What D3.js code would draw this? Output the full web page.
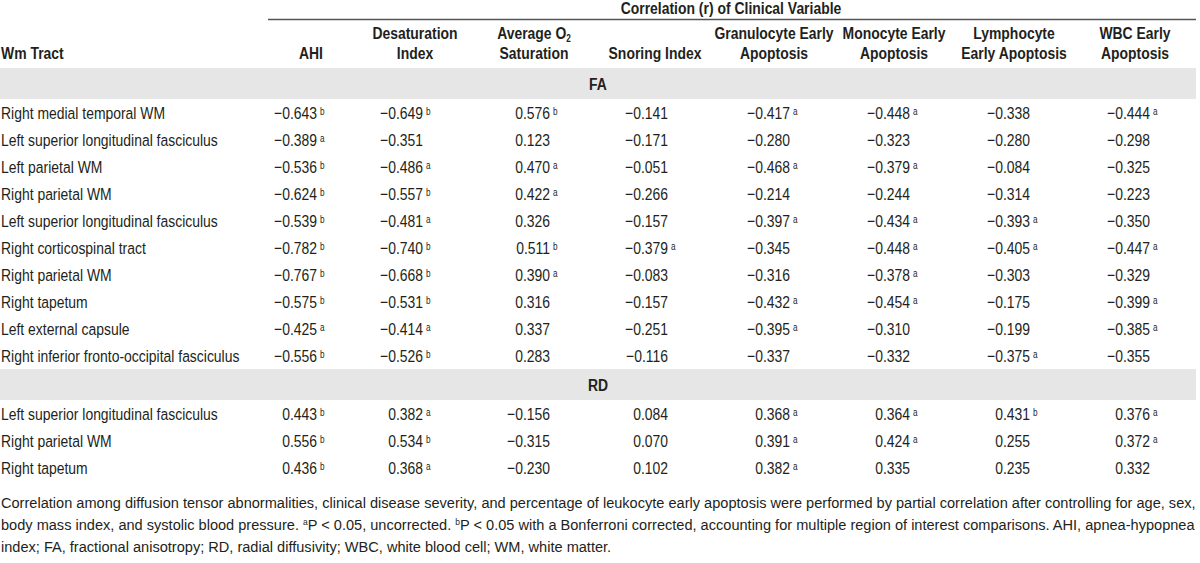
<!DOCTYPE html>
<html><head><meta charset="utf-8">
<script src="https://cdn.jsdelivr.net/npm/d3@7"></script>
<style>
html,body{margin:0;padding:0;background:#fff;}
svg{display:block;}
text{font-family:"Liberation Sans",Arial,sans-serif;fill:#231f20;}
</style></head>
<body><svg id="chart" width="1200" height="563"></svg>
<script>
// ---- data ----
const spanTitle = "Correlation (r) of Clinical Variable";
const rowHeader = "Wm Tract";
const columnKeys = ["ahi","desat","avgO2","snoring","gran","mono","lymph","wbc"];
const columnLabels = [
  ["", "AHI"],
  ["Desaturation", "Index"],
  ["Average O|2", "Saturation"],
  ["", "Snoring Index"],
  ["Granulocyte Early", "Apoptosis"],
  ["Monocyte Early", "Apoptosis"],
  ["Lymphocyte", "Early Apoptosis"],
  ["WBC Early", "Apoptosis"]
];
const sections = ["FA", "RD"];
const faTracts = [
  "Right medial temporal WM",
  "Left superior longitudinal fasciculus",
  "Left parietal WM",
  "Right parietal WM",
  "Left superior longitudinal fasciculus",
  "Right corticospinal tract",
  "Right parietal WM",
  "Right tapetum",
  "Left external capsule",
  "Right inferior fronto-occipital fasciculus"
];
const rdTracts = [
  "Left superior longitudinal fasciculus",
  "Right parietal WM",
  "Right tapetum"
];
// values per column (10 FA rows then 3 RD rows)
const ahi     = [-0.643,-0.389,-0.536,-0.624,-0.539,-0.782,-0.767,-0.575,-0.425,-0.556, 0.443,0.556,0.436];
const ahiSig  = ["b","a","b","b","b","b","b","b","a","b", "b","b","b"];
const desat   = [-0.649,-0.351,-0.486,-0.557,-0.481,-0.740,-0.668,-0.531,-0.414,-0.526, 0.382,0.534,0.368];
const desatSig= ["b","","a","b","a","b","b","b","a","b", "a","b","a"];
const avgO2   = [0.576,0.123,0.470,0.422,0.326,0.511,0.390,0.316,0.337,0.283, -0.156,-0.315,-0.230];
const avgO2Sig= ["b","","a","a","","b","a","","","", "","",""];
const snoring = [-0.141,-0.171,-0.051,-0.266,-0.157,-0.379,-0.083,-0.157,-0.251,-0.116, 0.084,0.070,0.102];
const snoringSig=["","","","","","a","","","","", "","",""];
const gran    = [-0.417,-0.280,-0.468,-0.214,-0.397,-0.345,-0.316,-0.432,-0.395,-0.337, 0.368,0.391,0.382];
const granSig = ["a","","a","","a","","","a","a","", "a","a","a"];
const mono    = [-0.448,-0.323,-0.379,-0.244,-0.434,-0.448,-0.378,-0.454,-0.310,-0.332, 0.364,0.424,0.335];
const monoSig = ["a","","a","","a","a","a","a","","", "a","a",""];
const lymph   = [-0.338,-0.280,-0.084,-0.314,-0.393,-0.405,-0.303,-0.175,-0.199,-0.375, 0.431,0.255,0.235];
const lymphSig= ["","","","","a","a","","","","a", "b","",""];
const wbc     = [-0.444,-0.298,-0.325,-0.223,-0.350,-0.447,-0.329,-0.399,-0.385,-0.355, 0.376,0.372,0.332];
const wbcSig  = ["a","","","","","a","","a","a","", "a","a",""];
const footnote = [
  [["Correlation among diffusion tensor abnormalities, clinical disease severity, and percentage of leukocyte early apoptosis were performed by partial correlation after controlling for age, sex,",""]],
  [["body mass index, and systolic blood pressure. ",""],["a","sup"],["P < 0.05, uncorrected. ",""],["b","sup"],["P < 0.05 with a Bonferroni corrected, accounting for multiple region of interest comparisons. AHI, apnea-hypopnea",""]],
  [["index; FA, fractional anisotropy; RD, radial diffusivity; WBC, white blood cell; WM, white matter.",""]]
];

// ---- layout ----
const svg = d3.select("#chart");
const SX = 0.82, FS = 17;
const series = {ahi, desat, avgO2, snoring, gran, mono, lymph, wbc};
const sigs = {ahi:ahiSig, desat:desatSig, avgO2:avgO2Sig, snoring:snoringSig, gran:granSig, mono:monoSig, lymph:lymphSig, wbc:wbcSig};

const headerX = d3.scaleOrdinal().domain(columnKeys).range([311,415,534,655,774,894,1014,1135]);
const numEndX = d3.scaleOrdinal().domain(columnKeys).range([317,423,550,668,790,910,1030,1150]);
const fmt = d3.format(".3f");

function txt(parent, x, y, s, size, weight, anchor, sx){
  return parent.append("text")
    .attr("transform", `translate(${x},${y}) scale(${sx==null?SX:sx},1)`)
    .attr("text-anchor", anchor||"start")
    .attr("font-size", size)
    .attr("font-weight", weight||"normal")
    .text(s);
}

const rowStep = 27, bandH = 31;
const bandTop = {FA: 68, RD: 68 + bandH + faTracts.length*rowStep};
const rowsFA = faTracts.map((t,i)=>({tract:t, idx:i, sec:"FA", k:i}));
const rowsRD = rdTracts.map((t,i)=>({tract:t, idx:faTracts.length+i, sec:"RD", k:i}));
const rows = rowsFA.concat(rowsRD);
const yRow = d => d3.scaleLinear().domain([0,1]).range([bandTop[d.sec]+bandH+rowStep/2, bandTop[d.sec]+bandH+rowStep*1.5])(d.k);

// header
txt(svg, 731, 14, spanTitle, FS, "bold", "middle");
svg.append("line").attr("x1",268).attr("x2",1196).attr("y1",19.5).attr("y2",19.5)
  .attr("stroke","#555").attr("stroke-width",1.6);
txt(svg, 1, 59, rowHeader, FS, "bold");

columnKeys.forEach((k,i)=>{
  columnLabels[i].forEach((lab,j)=>{
    if(!lab) return;
    const parts = lab.split("|");
    const t = txt(svg, headerX(k), j===0?39:59, null, FS, "bold", "middle");
    t.append("tspan").text(parts[0]);
    if(parts[1]) t.append("tspan").attr("font-size",10).attr("dy",3).text(parts[1]);
  });
});

// section bands
sections.forEach(s=>{
  svg.append("rect").attr("x",0).attr("y",bandTop[s]).attr("width",1196).attr("height",bandH).attr("fill","#e6e6e6");
  txt(svg, 598, bandTop[s]+bandH/2+6, s, FS, "bold", "middle");
});

// rows
const rowG = svg.selectAll("g.row").data(rows).join("g").attr("class","row")
  .attr("transform",d=>`translate(0,${yRow(d)+6})`);
rowG.append("text").attr("transform",`translate(1,0) scale(${SX},1)`).attr("font-size",FS).text(d=>d.tract);
columnKeys.forEach(k=>{
  rowG.append("text").attr("transform",`translate(${numEndX(k)},0) scale(${SX},1)`)
    .attr("text-anchor","end").attr("font-size",FS)
    .text(d=>fmt(series[k][d.idx]));
  rowG.append("text").attr("transform",`translate(${numEndX(k)+3},-4) scale(${SX},1)`).attr("font-size",10)
    .text(d=>sigs[k][d.idx]);
});

// footnote
const fnLines = footnote.map((line,i)=>{
  const t = svg.append("text").attr("font-size",15.5);
  line.forEach(([s,kind])=>{
    const ts = t.append("tspan").text(s);
    if(kind==="sup") ts.attr("font-size",9).attr("baseline-shift","super");
  });
  return t;
});
const fnScale = 1196 / fnLines[0].node().getComputedTextLength();
fnLines.forEach((t,i)=>t.attr("transform",`translate(1,${508+i*22}) scale(${fnScale},1)`));
</script></body></html>
